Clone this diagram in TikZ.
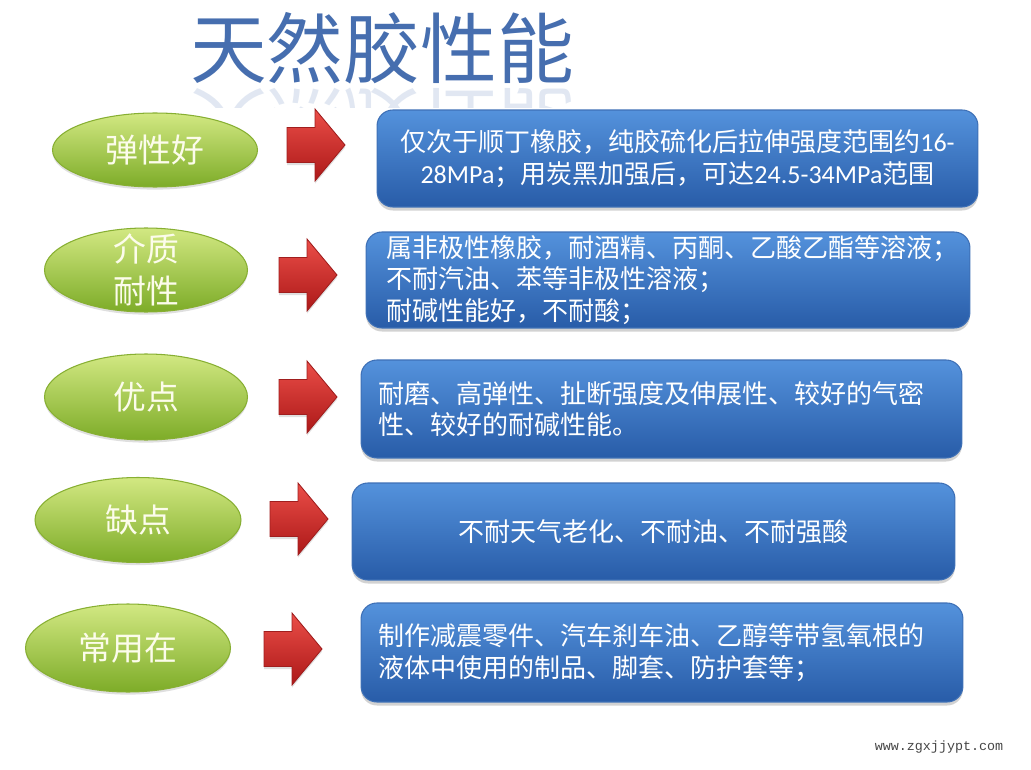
\documentclass[tikz,border=0pt]{standalone}
\usepackage{fontspec}
\setmainfont{Noto Sans CJK SC}
\newfontfamily\latinfont{Carlito}
\newfontfamily\sitefont{Liberation Mono}
\usepackage{tikz}
\usetikzlibrary{shapes.geometric,shadows,positioning}
\usepackage{xcolor}
\definecolor{titleBlue}{RGB}{70,110,175}
\definecolor{ellTop}{RGB}{210,232,130}
\definecolor{ellBot}{RGB}{125,172,40}
\definecolor{ellEdge}{RGB}{135,175,50}
\definecolor{ellText}{RGB}{252,252,235}
\definecolor{boxTop}{RGB}{84,146,220}
\definecolor{boxBot}{RGB}{40,92,168}
\definecolor{boxEdge}{RGB}{62,112,182}
\definecolor{arrTop}{RGB}{235,78,72}
\definecolor{arrBot}{RGB}{172,24,24}
\definecolor{arrEdge}{RGB}{160,30,30}
\definecolor{siteGray}{RGB}{70,70,70}

\begin{document}
\begin{tikzpicture}[x=0.02cm, y=-0.02cm,
  title/.style={text=titleBlue, font=\fontsize{43.7}{50}\selectfont, inner sep=0pt},
  greenball/.style={ellipse, top color=ellTop, bottom color=ellBot, draw=ellEdge, line width=0.6pt, inner sep=0pt,
    drop shadow={opacity=0.25, shadow xshift=0pt, shadow yshift=-1.5pt}},
  balltext/.style={text=ellText, font=\fontsize{18.7}{23.8}\selectfont, align=center, inner sep=0pt},
  bluebox/.style={rectangle, rounded corners=9pt, top color=boxTop, bottom color=boxBot, draw=boxEdge, line width=0.6pt,
    text=white, font=\fontsize{14.8}{17.8}\selectfont, inner ysep=0pt,
    drop shadow={opacity=0.35, shadow xshift=0pt, shadow yshift=-2pt}},
  redarrow/.style={top color=arrTop, bottom color=arrBot, draw=arrEdge, line width=0.5pt,
    drop shadow={opacity=0.25, shadow xshift=0pt, shadow yshift=-1.5pt}}]
\fill[white] (0,0) rectangle (1031,770);
\useasboundingbox (0,0) rectangle (1031,770);
% title and its reflection
\node[title] (title) at (382,48) {天然胶性能};
\begin{scope}
\clip (150,86) rectangle (620,108);
\begin{scope}[shift={(382,86)}, yscale=-1]
\node[title, transform shape, text opacity=0.16] (titleMirror) at (0,-38) {天然胶性能};
\end{scope}
\end{scope}
% left column
\node[greenball, minimum width=4.1cm, minimum height=1.48cm] (elastic) at (155,150) {};
\node[balltext] (elasticText) at (elastic) {弹性好};
\node[greenball, minimum width=4.06cm, minimum height=1.68cm] (medium) at (146,270) {};
\node[balltext] (mediumText) at (medium) {介质\\耐性};
\node[greenball, minimum width=4.06cm, minimum height=1.72cm] (pros) at (146,397) {};
\node[balltext] (prosText) at (pros) {优点};
\node[greenball, minimum width=4.12cm, minimum height=1.7cm] (cons) at (138,520) {};
\node[balltext] (consText) at (cons) {缺点};
\node[greenball, minimum width=4.1cm, minimum height=1.76cm] (usage) at (128,648) {};
\node[balltext] (usageText) at (usage) {常用在};
% red arrows
\coordinate (tipA) at (345,145);
\coordinate (tipB) at (337,275);
\coordinate (tipC) at (337,397);
\coordinate (tipD) at (328,519);
\coordinate (tipE) at (322,649);
\draw[redarrow] (tipA) -- ++(-30,-36) -- ++(0,18.5) -- ++(-28,0) -- ++(0,35) -- ++(28,0) -- ++(0,18.5) -- cycle;
\draw[redarrow] (tipB) -- ++(-30,-36) -- ++(0,18.5) -- ++(-28,0) -- ++(0,35) -- ++(28,0) -- ++(0,18.5) -- cycle;
\draw[redarrow] (tipC) -- ++(-30,-36) -- ++(0,18.5) -- ++(-28,0) -- ++(0,35) -- ++(28,0) -- ++(0,18.5) -- cycle;
\draw[redarrow] (tipD) -- ++(-30,-36) -- ++(0,18.5) -- ++(-28,0) -- ++(0,35) -- ++(28,0) -- ++(0,18.5) -- cycle;
\draw[redarrow] (tipE) -- ++(-30,-36) -- ++(0,18.5) -- ++(-28,0) -- ++(0,35) -- ++(28,0) -- ++(0,18.5) -- cycle;
% right column
\node[bluebox, minimum width=12.02cm, minimum height=1.94cm, align=center] (elasticBox) at (677.5,158.5)
  {仅次于顺丁橡胶，纯胶硫化后拉伸强度范围约{\latinfont 16-}\\{\latinfont 28MPa}；用炭黑加强后，可达{\latinfont 24.5-34MPa}范围};
\node[bluebox, minimum width=12.08cm, minimum height=1.92cm, inner xsep=0.4cm, text width=11.28cm, align=left] (mediumBox) at (668,280)
  {属非极性橡胶，耐酒精、丙酮、乙酸乙酯等溶液；\\不耐汽油、苯等非极性溶液；\\耐碱性能好，不耐酸；};
\node[bluebox, minimum width=12.02cm, minimum height=1.96cm, inner xsep=0.34cm, text width=11.34cm, align=left] (prosBox) at (661.5,409)
  {耐磨、高弹性、扯断强度及伸展性、较好的气密\\性、较好的耐碱性能。};
\node[bluebox, minimum width=12.06cm, minimum height=1.94cm, align=center] (consBox) at (653.5,531.5)
  {不耐天气老化、不耐油、不耐强酸};
\node[bluebox, minimum width=12.04cm, minimum height=1.98cm, inner xsep=0.34cm, text width=11.36cm, align=left] (usageBox) at (662,652.5)
  {制作减震零件、汽车刹车油、乙醇等带氢氧根的\\液体中使用的制品、脚套、防护套等；};
% site mark
\node[text=siteGray, font=\sitefont\fontsize{7.6}{9}\selectfont, inner sep=0pt] (site) at (939,747) {www.zgxjjypt.com};
\end{tikzpicture}
\end{document}
